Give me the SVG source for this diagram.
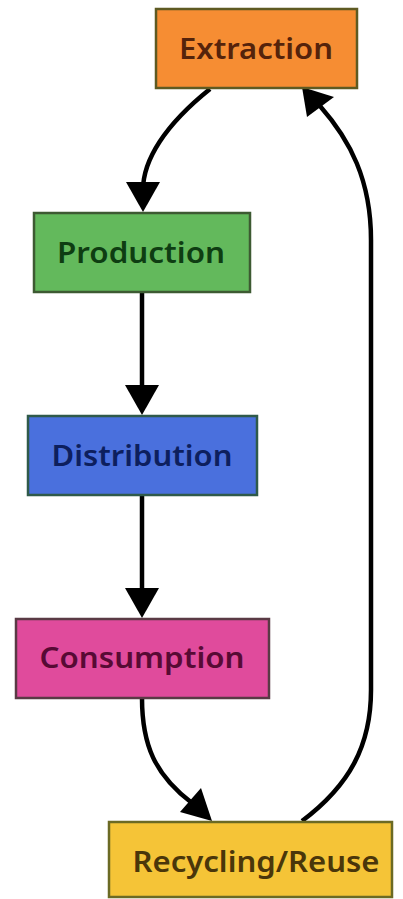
<svg xmlns="http://www.w3.org/2000/svg" width="403" height="899" viewBox="0 0 403 899">
<style>
.box{stroke-width:2.5}
.lbl{font-family:"Noto Sans","Open Sans",sans-serif;font-size:29px;font-weight:600;text-anchor:middle}
.edge{fill:none;stroke:#000;stroke-width:4.5}
</style>
<rect width="403" height="899" fill="#fff"/>
<g id="connectors">
<path class="edge" d="M210,89 C165,125 143,160 143,190"/>
<polygon points="143,212 126,182 160,182" fill="#000"/>
<path class="edge" d="M142,292 L142,392"/>
<polygon points="142,415 125,385 159,385" fill="#000"/>
<path class="edge" d="M142,495 L142,596"/>
<polygon points="142,618 125,588 159,588" fill="#000"/>
<path class="edge" d="M142,698 C142,745 155,775 192,803"/>
<polygon points="212,821 180,812 201,788" fill="#000"/>
<path class="edge" d="M302,821 C350,785 371,745 371,690 L371,240 C371,180 350,140 320,106"/>
<polygon points="302,87 307,117 334,97" fill="#000"/>
</g>
<g id="extraction">
<rect class="box" x="156" y="9" width="201" height="79" fill="#f68d33" stroke="#5e5a22"/>
<text class="lbl" x="256" y="59" fill="#55230b" textLength="154" lengthAdjust="spacingAndGlyphs">Extraction</text>
</g>
<g id="production">
<rect class="box" x="34" y="213" width="216" height="79" fill="#63b95c" stroke="#3d5a32"/>
<text class="lbl" x="141" y="263" fill="#0e3d12" textLength="168" lengthAdjust="spacingAndGlyphs">Production</text>
</g>
<g id="distribution">
<rect class="box" x="28" y="416" width="229" height="79" fill="#4a70dd" stroke="#2f5a4a"/>
<text class="lbl" x="142" y="466" fill="#0d1f5e" textLength="181" lengthAdjust="spacingAndGlyphs">Distribution</text>
</g>
<g id="consumption">
<rect class="box" x="16" y="619" width="253" height="79" fill="#e04b9c" stroke="#5a3a45"/>
<text class="lbl" x="142" y="668" fill="#570a34" textLength="205" lengthAdjust="spacingAndGlyphs">Consumption</text>
</g>
<g id="recycling">
<rect class="box" x="109" y="822" width="283" height="75" fill="#f5c437" stroke="#6b6a24"/>
<text class="lbl" x="256" y="872" fill="#4a360a" textLength="247" lengthAdjust="spacingAndGlyphs">Recycling/Reuse</text>
</g>
</svg>
